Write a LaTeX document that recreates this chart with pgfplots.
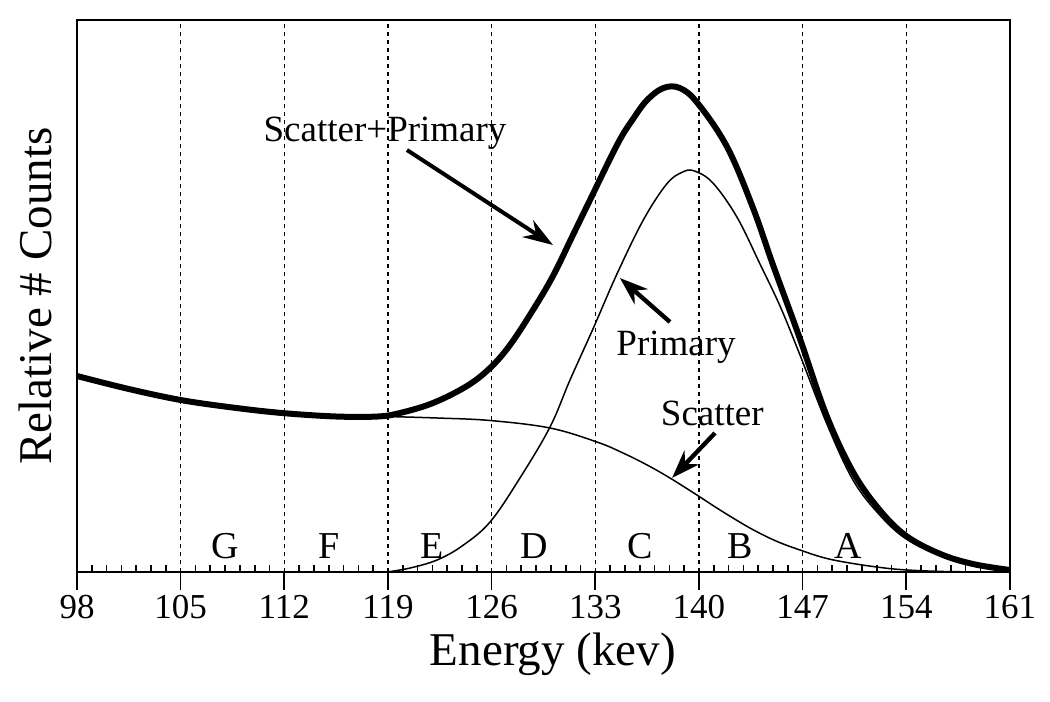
\documentclass[border=0pt]{standalone}
\usepackage{fontspec}
\setmainfont{Liberation Serif}
\usepackage{pgfplots}
\pgfplotsset{compat=1.18}
\usetikzlibrary{arrows.meta}
\begin{document}
\begin{tikzpicture}
\begin{axis}[name=ax, at={(0,0)}, anchor=south west,
 scale only axis, width=279.9bp, height=165.6bp,
 xmin=98, xmax=161, ymin=0, ymax=552,
 xtick={98,105,...,161}, ytick=\empty,
 minor x tick num=6,
 tick align=outside,
 major tick length=5.4bp,
 minor tick length=-2.1bp,
 xtick pos=bottom,
 xmajorgrids,
 major grid style={black, line width=0.4bp, dash pattern=on 1.2bp off 1.2bp},
 axis line style={line width=0.8bp},
 tick style={black, line width=0.5bp},
 ticklabel style={font=\fontsize{10.5bp}{12bp}\selectfont, inner sep=0.5bp},
 xticklabel style={yshift=-1bp},
 /pgf/number format/assume math mode=true,
 xlabel={Energy (kev)}, ylabel={Relative \# Counts},
 label style={font=\fontsize{14.1bp}{16bp}\selectfont, inner sep=0pt},
 xlabel style={at={(axis description cs:0.51,-0.149)}, anchor=center},
 ylabel style={at={(axis description cs:-0.045,0.5)}, anchor=center},
]
% Scatter
\addplot[black, line width=0.45bp, smooth, tension=0.6] coordinates {
(118.93,155.5) (122.31,154) (125.89,151.5) (129.94,144) (133.11,130) (134.87,119)
(136.5,107) (138.04,94) (139.86,77) (141.42,62) (143.44,44) (145.2,31) (146.82,22)
(148.5,14) (150.19,9) (152,5) (153.57,2.5) (155.8,0.8) (158,0.2) (161,0)};
% Primary
\addplot[black, line width=0.45bp, smooth, tension=0.6] coordinates {
(118.93,0) (120.5,4) (122.31,12) (124,26) (125.89,50) (127.91,94) (129.94,145)
(131.29,192) (132.84,243) (134.46,298) (136.24,352) (137.82,388) (138.9,400)
(139.7,401) (140.94,389) (142.56,355) (144.12,308) (145.5,265) (146.82,217) (148.64,148)
(150.4,92) (152.2,57) (154.0,33) (156.3,17) (158.5,8) (161,2)};
% Scatter + Primary
\addplot[black, line width=1.8bp, smooth, tension=0.6] coordinates {
(98,196) (101.5,183) (105,172) (108.5,164.5) (111.84,159) (115.5,155.5) (118.3,155.5)
(119.81,159) (122.04,169) (124.33,186) (125.89,204) (127.24,227) (128.79,262)
(130.14,296) (131.49,337) (132.64,372) (134.5,428) (135.5,452) (136.5,472)
(137.6,484) (138.7,484) (139.9,469) (141.9,425) (143.65,364) (145,307) (146.8,234)
(148.6,157) (150.4,100) (152.2,62) (154.0,36) (156.3,18) (158.5,8) (161,2)};
% annotations
\begin{scope}[font=\fontsize{11.1bp}{13bp}\selectfont]
\node[anchor=base] at (axis cs:118.8,431) {Scatter+Primary};
\draw[line width=1.2bp, -{Stealth[length=9bp,width=6bp]}] (axis cs:120.28,422) -- (axis cs:130.14,327);
\node[anchor=base] at (axis cs:138.45,217) {Primary};
\draw[line width=1.3bp, -{Stealth[length=8.5bp,width=6bp]}] (axis cs:138.04,250) -- (axis cs:134.66,294);
\node[anchor=base] at (axis cs:140.9,147) {Scatter};
\draw[line width=1.3bp, -{Stealth[length=8.5bp,width=6bp]}] (axis cs:141.08,139) -- (axis cs:138.18,94);
\end{scope}
\begin{scope}[font=\fontsize{11.4bp}{13bp}\selectfont]
\node[anchor=base] at (axis cs:108,14) {G};
\node[anchor=base] at (axis cs:115,14) {F};
\node[anchor=base] at (axis cs:122,14) {E};
\node[anchor=base] at (axis cs:128.9,14) {D};
\node[anchor=base] at (axis cs:136,14) {C};
\node[anchor=base] at (axis cs:142.8,14) {B};
\node[anchor=base] at (axis cs:150.1,14) {A};
\end{scope}
\end{axis}
\pgfresetboundingbox
\path (-23.1bp,-38.7bp) rectangle (291.9bp,171.6bp);
\end{tikzpicture}
\end{document}
